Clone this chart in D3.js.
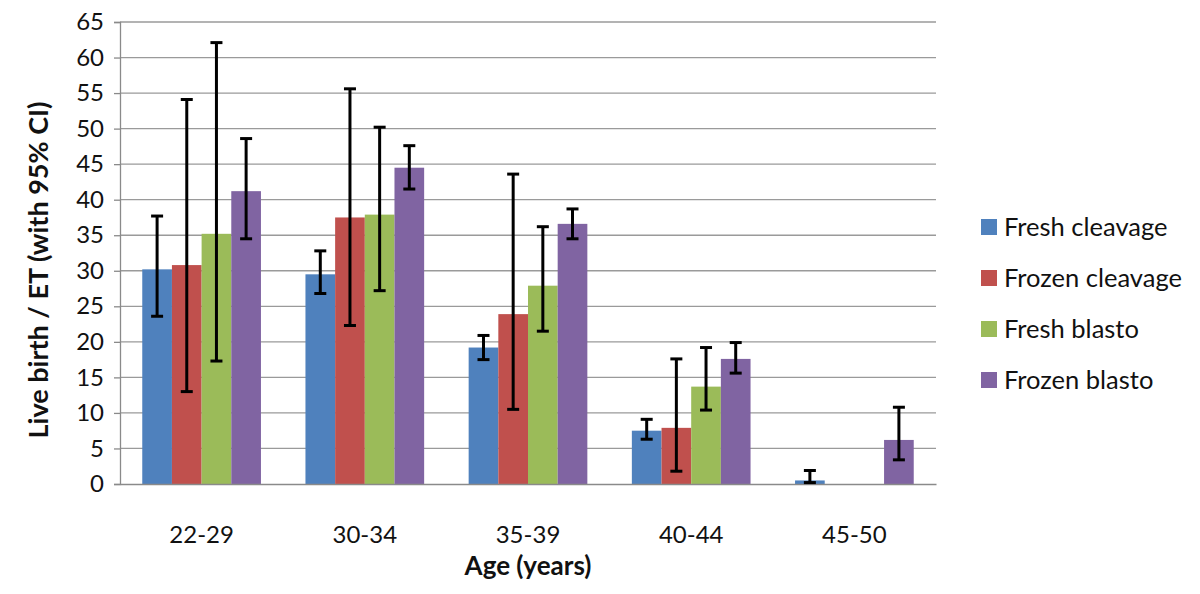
<!DOCTYPE html>
<html><head><meta charset="utf-8">
<script src="https://cdn.jsdelivr.net/npm/d3@7"></script>
<style>body{margin:0;background:#fff;}svg{display:block;}</style>
</head><body>
<svg id="c" width="1200" height="594"></svg>
<script>
const categories = ["22-29","30-34","35-39","40-44","45-50"];
const seriesNames = ["Fresh cleavage","Frozen cleavage","Fresh blasto","Frozen blasto"];
const colors = ["#4F81BD","#C0504D","#9BBB59","#8064A2"];
const freshCleavage  = [30.2, 29.5, 19.2, 7.5, 0.5];
const frozenCleavage = [30.8, 37.5, 23.9, 7.9, 0];
const freshBlasto    = [35.2, 37.9, 27.9, 13.7, 0];
const frozenBlasto   = [41.2, 44.5, 36.6, 17.6, 6.2];
const freshCleavageLo  = [23.6, 26.8, 17.5, 6.3, 0.2];
const freshCleavageHi  = [37.7, 32.8, 20.9, 9.1, 1.9];
const frozenCleavageLo = [13.0, 22.3, 10.5, 1.8, null];
const frozenCleavageHi = [54.1, 55.6, 43.6, 17.6, null];
const freshBlastoLo    = [17.3, 27.2, 21.5, 10.4, null];
const freshBlastoHi    = [62.1, 50.2, 36.2, 19.2, null];
const frozenBlastoLo   = [34.5, 41.5, 34.5, 15.6, 3.4];
const frozenBlastoHi   = [48.6, 47.6, 38.7, 19.9, 10.8];
const yTicks = [0,5,10,15,20,25,30,35,40,45,50,55,60,65];
const yTitle = "Live birth / ET (with 95% CI)";
const xTitle = "Age (years)";

const values = [freshCleavage, frozenCleavage, freshBlasto, frozenBlasto];
const los = [freshCleavageLo, frozenCleavageLo, freshBlastoLo, frozenBlastoLo];
const his = [freshCleavageHi, frozenCleavageHi, freshBlastoHi, frozenBlastoHi];

const svg = d3.select("#c");
const m = {left:120, right:936, top:22, bottom:484};
const font = "Lato, 'Open Sans', sans-serif";

const x0 = d3.scaleBand().domain(categories).range([m.left, m.right]).paddingInner(0.2727).paddingOuter(0.1364);
const x1 = d3.scaleBand().domain(seriesNames).range([0, x0.bandwidth()]);
const y = d3.scaleLinear().domain([0,65]).range([m.bottom, m.top]);

// gridlines
svg.append("g").selectAll("line").data(yTicks.filter(t=>t>0)).join("line")
  .attr("x1", m.left).attr("x2", m.right)
  .attr("y1", d=>y(d)).attr("y2", d=>y(d))
  .attr("stroke", "#9a9a9a").attr("stroke-width", 1.3);

// y axis
const yAxis = svg.append("g").attr("transform", `translate(${m.left},0)`)
  .call(d3.axisLeft(y).tickValues(yTicks).tickSize(6).tickPadding(10));
yAxis.select(".domain").attr("stroke", "#8a8a8a").attr("stroke-width", 1.3);
yAxis.selectAll(".tick line").attr("stroke", "#8a8a8a").attr("stroke-width", 1.3);
yAxis.selectAll(".tick text").attr("font-family", font).attr("font-size", 24).attr("fill", "#111");

// bars
const data = [];
categories.forEach((c, i) => seriesNames.forEach((s, j) => {
  data.push({c, s, j, v: values[j][i], lo: los[j][i], hi: his[j][i]});
}));
svg.append("g").selectAll("rect").data(data).join("rect")
  .attr("x", d => x0(d.c) + x1(d.s))
  .attr("width", x1.bandwidth())
  .attr("y", d => y(d.v))
  .attr("height", d => y(0) - y(d.v))
  .attr("fill", d => colors[d.j]);

// x axis
const xAxis = svg.append("g").attr("transform", `translate(0,${m.bottom})`)
  .call(d3.axisBottom(x0).tickSize(0).tickPadding(42));
xAxis.select(".domain").attr("stroke", "#8a8a8a").attr("stroke-width", 1.3);
xAxis.selectAll(".tick text").attr("font-family", font).attr("font-size", 24).attr("fill", "#111");

// error bars
const eb = svg.append("g").selectAll("g").data(data.filter(d => d.lo != null)).join("g");
const cx = d => x0(d.c) + x1(d.s) + x1.bandwidth()/2;
eb.append("line").attr("x1", cx).attr("x2", cx).attr("y1", d=>y(d.lo)).attr("y2", d=>y(d.hi))
  .attr("stroke", "#000").attr("stroke-width", 3);
eb.append("line").attr("x1", d=>cx(d)-6).attr("x2", d=>cx(d)+6).attr("y1", d=>y(d.hi)).attr("y2", d=>y(d.hi))
  .attr("stroke", "#000").attr("stroke-width", 3);
eb.append("line").attr("x1", d=>cx(d)-6).attr("x2", d=>cx(d)+6).attr("y1", d=>y(d.lo)).attr("y2", d=>y(d.lo))
  .attr("stroke", "#000").attr("stroke-width", 3);

// titles
svg.append("text").attr("x", (m.left+m.right)/2).attr("y", 575).attr("text-anchor","middle")
  .attr("font-family", font).attr("font-size", 26).attr("font-weight","bold").attr("fill","#111").text(xTitle);
svg.append("text").attr("transform","translate(48,270) rotate(-90)").attr("text-anchor","middle")
  .attr("font-family", font).attr("font-size", 27).attr("font-weight","bold").attr("fill","#111").text(yTitle);

// legend
const lg = svg.append("g").selectAll("g").data(seriesNames).join("g")
  .attr("transform", (d,i)=>`translate(981,${227 + i*51})`);
lg.append("rect").attr("x",0).attr("y",-8).attr("width",16).attr("height",16).attr("fill",(d,i)=>colors[i]);
lg.append("text").attr("x",23).attr("y",0).attr("dy","0.36em")
  .attr("font-family", font).attr("font-size", 25.5).attr("fill","#111").text(d=>d);
</script>
</body></html>
